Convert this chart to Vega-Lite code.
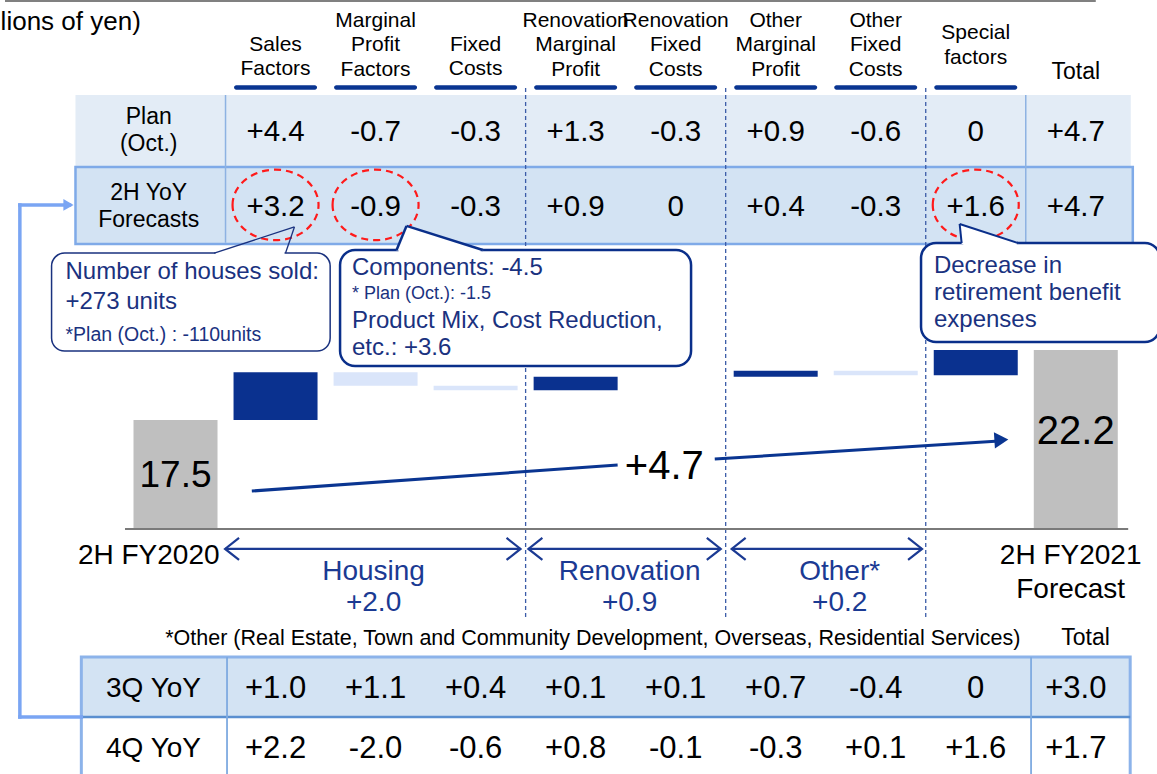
{
"$schema":"https://vega.github.io/schema/vega-lite/v6.json",
"width":1157,"height":774,"padding":0,"autosize":{"type":"none"},
"background":"#ffffff",
"config":{"view":{"stroke":null},"font":"Liberation Sans"},
"data":{"values":[{}]},
"datasets":{
"hdr":[{"col":1,"h":"Sales\nFactors","g":"n"},{"col":2,"h":"Marginal\nProfit\nFactors","g":"n"},{"col":3,"h":"Fixed\nCosts","g":"n"},{"col":4,"h":"Renovation\nMarginal\nProfit","g":"n"},{"col":5,"h":"Renovation\nFixed\nCosts","g":"n"},{"col":6,"h":"Other\nMarginal\nProfit","g":"n"},{"col":7,"h":"Other\nFixed\nCosts","g":"n"},{"col":8,"h":"Special\nfactors","g":"s"},{"col":9,"h":"Total","g":"t"}],
"tbl":[
{"row":"plan","col":1,"v":4.4,"label":"+4.4"},{"row":"plan","col":2,"v":-0.7,"label":"-0.7"},{"row":"plan","col":3,"v":-0.3,"label":"-0.3"},{"row":"plan","col":4,"v":1.3,"label":"+1.3"},{"row":"plan","col":5,"v":-0.3,"label":"-0.3"},{"row":"plan","col":6,"v":0.9,"label":"+0.9"},{"row":"plan","col":7,"v":-0.6,"label":"-0.6"},{"row":"plan","col":8,"v":0,"label":"0"},{"row":"plan","col":9,"v":4.7,"label":"+4.7"},
{"row":"h2","col":1,"v":3.2,"label":"+3.2","circled":true},{"row":"h2","col":2,"v":-0.9,"label":"-0.9","circled":true},{"row":"h2","col":3,"v":-0.3,"label":"-0.3"},{"row":"h2","col":4,"v":0.9,"label":"+0.9"},{"row":"h2","col":5,"v":0,"label":"0"},{"row":"h2","col":6,"v":0.4,"label":"+0.4"},{"row":"h2","col":7,"v":-0.3,"label":"-0.3"},{"row":"h2","col":8,"v":1.6,"label":"+1.6","circled":true},{"row":"h2","col":9,"v":4.7,"label":"+4.7"},
{"row":"q3","col":1,"v":1.0,"label":"+1.0"},{"row":"q3","col":2,"v":1.1,"label":"+1.1"},{"row":"q3","col":3,"v":0.4,"label":"+0.4"},{"row":"q3","col":4,"v":0.1,"label":"+0.1"},{"row":"q3","col":5,"v":0.1,"label":"+0.1"},{"row":"q3","col":6,"v":0.7,"label":"+0.7"},{"row":"q3","col":7,"v":-0.4,"label":"-0.4"},{"row":"q3","col":8,"v":0,"label":"0"},{"row":"q3","col":9,"v":3.0,"label":"+3.0"},
{"row":"q4","col":1,"v":2.2,"label":"+2.2"},{"row":"q4","col":2,"v":-2.0,"label":"-2.0"},{"row":"q4","col":3,"v":-0.6,"label":"-0.6"},{"row":"q4","col":4,"v":0.8,"label":"+0.8"},{"row":"q4","col":5,"v":-0.1,"label":"-0.1"},{"row":"q4","col":6,"v":-0.3,"label":"-0.3"},{"row":"q4","col":7,"v":0.1,"label":"+0.1"},{"row":"q4","col":8,"v":1.6,"label":"+1.6"},{"row":"q4","col":9,"v":1.7,"label":"+1.7"}],
"rowlab":[{"row":"plan","lab":"Plan\n(Oct.)"},{"row":"h2","lab":"2H YoY\nForecasts"},{"row":"q3","lab":"3Q YoY"},{"row":"q4","lab":"4Q YoY"}],
"totals":[{"col":0,"v":17.5,"lab":"17.5"},{"col":9,"v":22.2,"lab":"22.2"}],
"deltas":[{"col":1,"from":17.5,"to":20.7,"dir":"up"},{"col":2,"from":20.7,"to":19.8,"dir":"down"},{"col":3,"from":19.8,"to":19.5,"dir":"down"},{"col":4,"from":19.5,"to":20.4,"dir":"up"},{"col":6,"from":20.4,"to":20.8,"dir":"up"},{"col":7,"from":20.8,"to":20.5,"dir":"down"},{"col":8,"from":20.5,"to":22.2,"dir":"up"}],
"segs":[{"name":"Housing\n+2.0","lo":0.4955,"hi":3.449,"mid":1.98},{"name":"Renovation\n+0.9","lo":3.528,"hi":5.451,"mid":4.54},{"name":"Other*\n+0.2","lo":5.56,"hi":7.463,"mid":6.64}],
"notes":[{"id":"unit","t":"(Billions of yen)"},{"id":"diff","t":"+4.7"},{"id":"c1","t":"Number of houses sold:\n+273 units"},{"id":"c1s","t":"*Plan (Oct.) : -110units"},{"id":"c2a","t":"Components: -4.5"},{"id":"c2s","t":"* Plan (Oct.): -1.5"},{"id":"c2b","t":"Product Mix, Cost Reduction,\netc.: +3.6"},{"id":"c3","t":"Decrease in\nretirement benefit\nexpenses"},{"id":"fy20","t":"2H FY2020"},{"id":"fy21","t":"2H FY2021\nForecast"},{"id":"foot","t":"*Other (Real Estate, Town and Community Development, Overseas, Residential Services)"},{"id":"total2","t":"Total"}]
},
"layer":[
{"mark":{"type":"rule","color":"#808080","strokeWidth":2.5},"encoding":{"x":{"datum":-1.7046,"type":"quantitative","scale":{"domain":[-1.7046,9.762],"nice":false,"zero":false},"axis":null},"x2":{"datum":9.2},"y":{"datum":45.65,"type":"quantitative","scale":{"domain":[-6.27,45.7],"nice":false,"zero":false},"axis":null}}},
{"mark":{"type":"rect","fill":"#e3ecf6"},"encoding":{"x":{"datum":-1.0,"type":"quantitative","scale":{"domain":[-1.7046,9.762],"nice":false,"zero":false},"axis":null},"x2":{"datum":9.55},"y":{"datum":39.32,"type":"quantitative","scale":{"domain":[-6.27,45.7],"nice":false,"zero":false},"axis":null},"y2":{"datum":34.55}}},
{"mark":{"type":"rect","fill":"#d3e3f3","stroke":"#7faae8","strokeWidth":2.5},"encoding":{"x":{"datum":-1.0,"type":"quantitative","scale":{"domain":[-1.7046,9.762],"nice":false,"zero":false},"axis":null},"x2":{"datum":9.57},"y":{"datum":34.49,"type":"quantitative","scale":{"domain":[-6.27,45.7],"nice":false,"zero":false},"axis":null},"y2":{"datum":29.32}}},
{"mark":{"type":"rule","color":"#8db2e2","strokeWidth":1.5},"encoding":{"x":{"datum":0.5,"type":"quantitative","scale":{"domain":[-1.7046,9.762],"nice":false,"zero":false},"axis":null},"y":{"datum":39.32,"type":"quantitative","scale":{"domain":[-6.27,45.7],"nice":false,"zero":false},"axis":null},"y2":{"datum":29.4}}},
{"mark":{"type":"rule","color":"#8db2e2","strokeWidth":1.5},"encoding":{"x":{"datum":8.5,"type":"quantitative","scale":{"domain":[-1.7046,9.762],"nice":false,"zero":false},"axis":null},"y":{"datum":39.32,"type":"quantitative","scale":{"domain":[-6.27,45.7],"nice":false,"zero":false},"axis":null},"y2":{"datum":29.4}}},
{"mark":{"type":"rule","color":"#3b5ca8","strokeWidth":1.3,"strokeDash":[4,3]},"encoding":{"x":{"datum":3.5,"type":"quantitative","scale":{"domain":[-1.7046,9.762],"nice":false,"zero":false},"axis":null},"y":{"datum":39.79,"type":"quantitative","scale":{"domain":[-6.27,45.7],"nice":false,"zero":false},"axis":null},"y2":{"datum":4.07}}},
{"mark":{"type":"rule","color":"#3b5ca8","strokeWidth":1.3,"strokeDash":[4,3]},"encoding":{"x":{"datum":5.5,"type":"quantitative","scale":{"domain":[-1.7046,9.762],"nice":false,"zero":false},"axis":null},"y":{"datum":39.79,"type":"quantitative","scale":{"domain":[-6.27,45.7],"nice":false,"zero":false},"axis":null},"y2":{"datum":4.07}}},
{"mark":{"type":"rule","color":"#3b5ca8","strokeWidth":1.3,"strokeDash":[4,3]},"encoding":{"x":{"datum":7.5,"type":"quantitative","scale":{"domain":[-1.7046,9.762],"nice":false,"zero":false},"axis":null},"y":{"datum":39.79,"type":"quantitative","scale":{"domain":[-6.27,45.7],"nice":false,"zero":false},"axis":null},"y2":{"datum":4.07}}},
{"data":{"name":"hdr"},"transform":[{"filter":"datum.g=='n' && length(split(datum.h,'\\n'))==3"}],"mark":{"type":"text","fontSize":21,"lineHeight":24.5,"lineBreak":"\n","baseline":"middle","align":"center","color":"#000000"},"encoding":{"x":{"field":"col","type":"quantitative","scale":{"domain":[-1.7046,9.762],"nice":false,"zero":false},"axis":null},"y":{"datum":44.29,"type":"quantitative","scale":{"domain":[-6.27,45.7],"nice":false,"zero":false},"axis":null},"text":{"field":"h"}}},
{"data":{"name":"hdr"},"transform":[{"filter":"datum.g=='n' && length(split(datum.h,'\\n'))==2"}],"mark":{"type":"text","fontSize":21,"lineHeight":24.5,"lineBreak":"\n","baseline":"middle","align":"center","color":"#000000"},"encoding":{"x":{"field":"col","type":"quantitative","scale":{"domain":[-1.7046,9.762],"nice":false,"zero":false},"axis":null},"y":{"datum":42.68,"type":"quantitative","scale":{"domain":[-6.27,45.7],"nice":false,"zero":false},"axis":null},"text":{"field":"h"}}},
{"data":{"name":"hdr"},"transform":[{"filter":"datum.g=='s'"}],"mark":{"type":"text","fontSize":21,"lineHeight":24.5,"lineBreak":"\n","baseline":"middle","align":"center","color":"#000000"},"encoding":{"x":{"field":"col","type":"quantitative","scale":{"domain":[-1.7046,9.762],"nice":false,"zero":false},"axis":null},"y":{"datum":43.48,"type":"quantitative","scale":{"domain":[-6.27,45.7],"nice":false,"zero":false},"axis":null},"text":{"field":"h"}}},
{"data":{"name":"hdr"},"transform":[{"filter":"datum.g=='t'"}],"mark":{"type":"text","fontSize":23,"baseline":"middle","align":"center","color":"#000000"},"encoding":{"x":{"field":"col","type":"quantitative","scale":{"domain":[-1.7046,9.762],"nice":false,"zero":false},"axis":null},"y":{"datum":40.87,"type":"quantitative","scale":{"domain":[-6.27,45.7],"nice":false,"zero":false},"axis":null},"text":{"field":"h"}}},
{"data":{"name":"hdr"},"transform":[{"filter":"datum.g!='t'"}],"mark":{"type":"bar","width":83,"color":"#0a3591","cornerRadius":2.2},"encoding":{"x":{"field":"col","type":"quantitative","scale":{"domain":[-1.7046,9.762],"nice":false,"zero":false},"axis":null},"y":{"datum":39.97,"type":"quantitative","scale":{"domain":[-6.27,45.7],"nice":false,"zero":false},"axis":null},"y2":{"datum":39.67}}},
{"data":{"name":"tbl"},"transform":[{"filter":"datum.row=='plan'"}],"mark":{"type":"text","fontSize":29.5,"baseline":"middle","align":"center","color":"#000000"},"encoding":{"x":{"field":"col","type":"quantitative","scale":{"domain":[-1.7046,9.762],"nice":false,"zero":false},"axis":null},"y":{"datum":36.84,"type":"quantitative","scale":{"domain":[-6.27,45.7],"nice":false,"zero":false},"axis":null},"text":{"field":"label"}}},
{"data":{"name":"tbl"},"transform":[{"filter":"datum.row=='h2'"}],"mark":{"type":"text","fontSize":29.5,"baseline":"middle","align":"center","color":"#000000"},"encoding":{"x":{"field":"col","type":"quantitative","scale":{"domain":[-1.7046,9.762],"nice":false,"zero":false},"axis":null},"y":{"datum":31.8,"type":"quantitative","scale":{"domain":[-6.27,45.7],"nice":false,"zero":false},"axis":null},"text":{"field":"label"}}},
{"data":{"name":"rowlab"},"transform":[{"filter":"datum.row=='plan'"}],"mark":{"type":"text","fontSize":23,"lineHeight":27,"lineBreak":"\n","baseline":"middle","align":"center","color":"#000000"},"encoding":{"x":{"datum":-0.268,"type":"quantitative","scale":{"domain":[-1.7046,9.762],"nice":false,"zero":false},"axis":null},"y":{"datum":37.84,"type":"quantitative","scale":{"domain":[-6.27,45.7],"nice":false,"zero":false},"axis":null},"text":{"field":"lab"}}},
{"data":{"name":"rowlab"},"transform":[{"filter":"datum.row=='h2'"}],"mark":{"type":"text","fontSize":23,"lineHeight":27,"lineBreak":"\n","baseline":"middle","align":"center","color":"#000000"},"encoding":{"x":{"datum":-0.268,"type":"quantitative","scale":{"domain":[-1.7046,9.762],"nice":false,"zero":false},"axis":null},"y":{"datum":32.74,"type":"quantitative","scale":{"domain":[-6.27,45.7],"nice":false,"zero":false},"axis":null},"text":{"field":"lab"}}},
{"data":{"name":"tbl"},"transform":[{"filter":"datum.circled"}],"mark":{"type":"point","shape":"M-1,0C-1,-0.453,-0.5523,-0.82,0,-0.82C0.5523,-0.82,1,-0.453,1,0C1,0.453,0.5523,0.82,0,0.82C-0.5523,0.82,-1,0.453,-1,0Z","size":7396,"filled":false,"opacity":1,"stroke":"#ff1a1a","strokeWidth":2.2,"strokeDash":[7,5]},"encoding":{"x":{"field":"col","type":"quantitative","scale":{"domain":[-1.7046,9.762],"nice":false,"zero":false},"axis":null},"y":{"datum":31.94,"type":"quantitative","scale":{"domain":[-6.27,45.7],"nice":false,"zero":false},"axis":null}}},
{"data":{"name":"totals"},"mark":{"type":"bar","width":84,"color":"#bfbfbf"},"encoding":{"x":{"field":"col","type":"quantitative","scale":{"domain":[-1.7046,9.762],"nice":false,"zero":false},"axis":null},"y":{"field":"v","type":"quantitative","scale":{"domain":[-6.27,45.7],"nice":false,"zero":false},"axis":null},"y2":{"datum":10.18}}},
{"data":{"name":"deltas"},"mark":{"type":"bar","width":84},"encoding":{"x":{"field":"col","type":"quantitative","scale":{"domain":[-1.7046,9.762],"nice":false,"zero":false},"axis":null},"y":{"field":"from","type":"quantitative","scale":{"domain":[-6.27,45.7],"nice":false,"zero":false},"axis":null},"y2":{"field":"to"},"color":{"field":"dir","type":"nominal","scale":{"domain":["up","down"],"range":["#0a318f","#dae5fa"]},"legend":null}}},
{"mark":{"type":"rule","color":"#7a7a7a","strokeWidth":2},"encoding":{"x":{"datum":-0.505,"type":"quantitative","scale":{"domain":[-1.7046,9.762],"nice":false,"zero":false},"axis":null},"x2":{"datum":9.524},"y":{"datum":10.18,"type":"quantitative","scale":{"domain":[-6.27,45.7],"nice":false,"zero":false},"axis":null}}},
{"data":{"name":"totals"},"transform":[{"filter":"datum.col==0"}],"mark":{"type":"text","fontSize":37,"baseline":"middle","align":"center","color":"#000000"},"encoding":{"x":{"field":"col","type":"quantitative","scale":{"domain":[-1.7046,9.762],"nice":false,"zero":false},"axis":null},"y":{"datum":13.74,"type":"quantitative","scale":{"domain":[-6.27,45.7],"nice":false,"zero":false},"axis":null},"text":{"field":"lab"}}},
{"data":{"name":"totals"},"transform":[{"filter":"datum.col==9"}],"mark":{"type":"text","fontSize":40,"baseline":"middle","align":"center","color":"#000000"},"encoding":{"x":{"field":"col","type":"quantitative","scale":{"domain":[-1.7046,9.762],"nice":false,"zero":false},"axis":null},"y":{"datum":16.7,"type":"quantitative","scale":{"domain":[-6.27,45.7],"nice":false,"zero":false},"axis":null},"text":{"field":"lab"}}},
{"mark":{"type":"rule","color":"#0a3591","strokeWidth":3},"encoding":{"x":{"datum":0.763,"type":"quantitative","scale":{"domain":[-1.7046,9.762],"nice":false,"zero":false},"axis":null},"x2":{"datum":4.42},"y":{"datum":12.73,"type":"quantitative","scale":{"domain":[-6.27,45.7],"nice":false,"zero":false},"axis":null},"y2":{"datum":14.48}}},
{"mark":{"type":"rule","color":"#0a3591","strokeWidth":3},"encoding":{"x":{"datum":5.391,"type":"quantitative","scale":{"domain":[-1.7046,9.762],"nice":false,"zero":false},"axis":null},"x2":{"datum":8.236},"y":{"datum":14.88,"type":"quantitative","scale":{"domain":[-6.27,45.7],"nice":false,"zero":false},"axis":null},"y2":{"datum":16.09}}},
{"mark":{"type":"point","shape":"triangle-right","filled":true,"opacity":1,"color":"#0a3591","size":260,"angle":-3.6},"encoding":{"x":{"datum":8.256,"type":"quantitative","scale":{"domain":[-1.7046,9.762],"nice":false,"zero":false},"axis":null},"y":{"datum":16.16,"type":"quantitative","scale":{"domain":[-6.27,45.7],"nice":false,"zero":false},"axis":null}}},
{"data":{"name":"notes"},"transform":[{"filter":"datum.id=='diff'"}],"mark":{"type":"text","fontSize":40,"baseline":"middle","align":"center","color":"#000000"},"encoding":{"x":{"datum":4.886,"type":"quantitative","scale":{"domain":[-1.7046,9.762],"nice":false,"zero":false},"axis":null},"y":{"datum":14.35,"type":"quantitative","scale":{"domain":[-6.27,45.7],"nice":false,"zero":false},"axis":null},"text":{"field":"t"}}},
{"mark":{"type":"rect","fill":"#ffffff","stroke":"#1a327f","strokeWidth":1.5,"cornerRadius":13},"encoding":{"x":{"datum":-1.239,"type":"quantitative","scale":{"domain":[-1.7046,9.762],"nice":false,"zero":false},"axis":null},"x2":{"datum":1.546},"y":{"datum":28.71,"type":"quantitative","scale":{"domain":[-6.27,45.7],"nice":false,"zero":false},"axis":null},"y2":{"datum":22.13}}},
{"mark":{"type":"rect","fill":"#ffffff","stroke":"#0a2f8a","strokeWidth":2.5,"cornerRadius":15},"encoding":{"x":{"datum":1.645,"type":"quantitative","scale":{"domain":[-1.7046,9.762],"nice":false,"zero":false},"axis":null},"x2":{"datum":5.154},"y":{"datum":28.91,"type":"quantitative","scale":{"domain":[-6.27,45.7],"nice":false,"zero":false},"axis":null},"y2":{"datum":21.13}}},
{"mark":{"type":"rect","fill":"#ffffff","stroke":"#0a2f8a","strokeWidth":2.5,"cornerRadius":15},"encoding":{"x":{"datum":7.453,"type":"quantitative","scale":{"domain":[-1.7046,9.762],"nice":false,"zero":false},"axis":null},"x2":{"datum":9.841},"y":{"datum":29.38,"type":"quantitative","scale":{"domain":[-6.27,45.7],"nice":false,"zero":false},"axis":null},"y2":{"datum":22.74}}},
{"mark":{"type":"rule","color":"#ffffff","strokeWidth":4},"encoding":{"x":{"datum":0.4,"type":"quantitative","scale":{"domain":[-1.7046,9.762],"nice":false,"zero":false},"axis":null},"x2":{"datum":1.09},"y":{"datum":28.71,"type":"quantitative","scale":{"domain":[-6.27,45.7],"nice":false,"zero":false},"axis":null}}},
{"mark":{"type":"rule","color":"#ffffff","strokeWidth":4},"encoding":{"x":{"datum":2.23,"type":"quantitative","scale":{"domain":[-1.7046,9.762],"nice":false,"zero":false},"axis":null},"x2":{"datum":3.05},"y":{"datum":28.91,"type":"quantitative","scale":{"domain":[-6.27,45.7],"nice":false,"zero":false},"axis":null}}},
{"mark":{"type":"rule","color":"#ffffff","strokeWidth":4},"encoding":{"x":{"datum":7.875,"type":"quantitative","scale":{"domain":[-1.7046,9.762],"nice":false,"zero":false},"axis":null},"x2":{"datum":8.41},"y":{"datum":29.38,"type":"quantitative","scale":{"domain":[-6.27,45.7],"nice":false,"zero":false},"axis":null}}},
{"mark":{"type":"point","shape":"M0,0L-1,2.45L7.7,2.45Z","size":400,"filled":true,"opacity":1,"color":"#ffffff","strokeWidth":0},"encoding":{"x":{"datum":2.309,"type":"quantitative","scale":{"domain":[-1.7046,9.762],"nice":false,"zero":false},"axis":null},"y":{"datum":30.53,"type":"quantitative","scale":{"domain":[-6.27,45.7],"nice":false,"zero":false},"axis":null}}},
{"mark":{"type":"point","shape":"M0,0L0.2,2L5.9,2Z","size":400,"filled":true,"opacity":1,"color":"#ffffff","strokeWidth":0},"encoding":{"x":{"datum":7.839,"type":"quantitative","scale":{"domain":[-1.7046,9.762],"nice":false,"zero":false},"axis":null},"y":{"datum":30.66,"type":"quantitative","scale":{"domain":[-6.27,45.7],"nice":false,"zero":false},"axis":null}}},
{"mark":{"type":"rule","color":"#1a327f","strokeWidth":1.3},"encoding":{"x":{"datum":0.387,"type":"quantitative","scale":{"domain":[-1.7046,9.762],"nice":false,"zero":false},"axis":null},"x2":{"datum":1.189},"y":{"datum":28.71,"type":"quantitative","scale":{"domain":[-6.27,45.7],"nice":false,"zero":false},"axis":null},"y2":{"datum":30.46}}},
{"mark":{"type":"rule","color":"#1a327f","strokeWidth":1.3},"encoding":{"x":{"datum":1.1,"type":"quantitative","scale":{"domain":[-1.7046,9.762],"nice":false,"zero":false},"axis":null},"x2":{"datum":1.189},"y":{"datum":28.71,"type":"quantitative","scale":{"domain":[-6.27,45.7],"nice":false,"zero":false},"axis":null},"y2":{"datum":30.46}}},
{"mark":{"type":"rule","color":"#0a2f8a","strokeWidth":2.5},"encoding":{"x":{"datum":2.21,"type":"quantitative","scale":{"domain":[-1.7046,9.762],"nice":false,"zero":false},"axis":null},"x2":{"datum":2.309},"y":{"datum":28.91,"type":"quantitative","scale":{"domain":[-6.27,45.7],"nice":false,"zero":false},"axis":null},"y2":{"datum":30.53}}},
{"mark":{"type":"rule","color":"#0a2f8a","strokeWidth":2.5},"encoding":{"x":{"datum":2.309,"type":"quantitative","scale":{"domain":[-1.7046,9.762],"nice":false,"zero":false},"axis":null},"x2":{"datum":3.072},"y":{"datum":30.53,"type":"quantitative","scale":{"domain":[-6.27,45.7],"nice":false,"zero":false},"axis":null},"y2":{"datum":28.91}}},
{"mark":{"type":"rule","color":"#0a2f8a","strokeWidth":2},"encoding":{"x":{"datum":7.859,"type":"quantitative","scale":{"domain":[-1.7046,9.762],"nice":false,"zero":false},"axis":null},"x2":{"datum":7.839},"y":{"datum":29.38,"type":"quantitative","scale":{"domain":[-6.27,45.7],"nice":false,"zero":false},"axis":null},"y2":{"datum":30.66}}},
{"mark":{"type":"rule","color":"#0a2f8a","strokeWidth":2},"encoding":{"x":{"datum":7.839,"type":"quantitative","scale":{"domain":[-1.7046,9.762],"nice":false,"zero":false},"axis":null},"x2":{"datum":8.424},"y":{"datum":30.66,"type":"quantitative","scale":{"domain":[-6.27,45.7],"nice":false,"zero":false},"axis":null},"y2":{"datum":29.38}}},
{"data":{"name":"notes"},"transform":[{"filter":"datum.id=='c1'"}],"mark":{"type":"text","fontSize":24,"lineHeight":30,"lineBreak":"\n","baseline":"middle","align":"left","color":"#1a327f"},"encoding":{"x":{"datum":-1.1,"type":"quantitative","scale":{"domain":[-1.7046,9.762],"nice":false,"zero":false},"axis":null},"y":{"datum":27.44,"type":"quantitative","scale":{"domain":[-6.27,45.7],"nice":false,"zero":false},"axis":null},"text":{"field":"t"}}},
{"data":{"name":"notes"},"transform":[{"filter":"datum.id=='c1s'"}],"mark":{"type":"text","fontSize":19.5,"baseline":"middle","align":"left","color":"#1a327f"},"encoding":{"x":{"datum":-1.1,"type":"quantitative","scale":{"domain":[-1.7046,9.762],"nice":false,"zero":false},"axis":null},"y":{"datum":23.21,"type":"quantitative","scale":{"domain":[-6.27,45.7],"nice":false,"zero":false},"axis":null},"text":{"field":"t"}}},
{"data":{"name":"notes"},"transform":[{"filter":"datum.id=='c2a'"}],"mark":{"type":"text","fontSize":24,"baseline":"middle","align":"left","color":"#1a327f"},"encoding":{"x":{"datum":1.764,"type":"quantitative","scale":{"domain":[-1.7046,9.762],"nice":false,"zero":false},"axis":null},"y":{"datum":27.71,"type":"quantitative","scale":{"domain":[-6.27,45.7],"nice":false,"zero":false},"axis":null},"text":{"field":"t"}}},
{"data":{"name":"notes"},"transform":[{"filter":"datum.id=='c2s'"}],"mark":{"type":"text","fontSize":18,"baseline":"middle","align":"left","color":"#1a327f"},"encoding":{"x":{"datum":1.764,"type":"quantitative","scale":{"domain":[-1.7046,9.762],"nice":false,"zero":false},"axis":null},"y":{"datum":25.96,"type":"quantitative","scale":{"domain":[-6.27,45.7],"nice":false,"zero":false},"axis":null},"text":{"field":"t"}}},
{"data":{"name":"notes"},"transform":[{"filter":"datum.id=='c2b'"}],"mark":{"type":"text","fontSize":24,"lineHeight":27,"lineBreak":"\n","baseline":"middle","align":"left","color":"#1a327f"},"encoding":{"x":{"datum":1.764,"type":"quantitative","scale":{"domain":[-1.7046,9.762],"nice":false,"zero":false},"axis":null},"y":{"datum":24.15,"type":"quantitative","scale":{"domain":[-6.27,45.7],"nice":false,"zero":false},"axis":null},"text":{"field":"t"}}},
{"data":{"name":"notes"},"transform":[{"filter":"datum.id=='c3'"}],"mark":{"type":"text","fontSize":24,"lineHeight":27,"lineBreak":"\n","baseline":"middle","align":"left","color":"#1a327f"},"encoding":{"x":{"datum":7.582,"type":"quantitative","scale":{"domain":[-1.7046,9.762],"nice":false,"zero":false},"axis":null},"y":{"datum":27.84,"type":"quantitative","scale":{"domain":[-6.27,45.7],"nice":false,"zero":false},"axis":null},"text":{"field":"t"}}},
{"data":{"name":"segs"},"mark":{"type":"rule","color":"#1b3a93","strokeWidth":2.2},"encoding":{"x":{"field":"lo","type":"quantitative","scale":{"domain":[-1.7046,9.762],"nice":false,"zero":false},"axis":null},"x2":{"field":"hi"},"y":{"datum":8.84,"type":"quantitative","scale":{"domain":[-6.27,45.7],"nice":false,"zero":false},"axis":null}}},
{"data":{"name":"segs"},"mark":{"type":"point","shape":"M1.27,-1L0,0L1.27,1","size":484,"filled":false,"opacity":1,"color":"#1b3a93","strokeWidth":2.2},"encoding":{"x":{"field":"lo","type":"quantitative","scale":{"domain":[-1.7046,9.762],"nice":false,"zero":false},"axis":null},"y":{"datum":8.84,"type":"quantitative","scale":{"domain":[-6.27,45.7],"nice":false,"zero":false},"axis":null}}},
{"data":{"name":"segs"},"mark":{"type":"point","shape":"M-1.27,-1L0,0L-1.27,1","size":484,"filled":false,"opacity":1,"color":"#1b3a93","strokeWidth":2.2},"encoding":{"x":{"field":"hi","type":"quantitative","scale":{"domain":[-1.7046,9.762],"nice":false,"zero":false},"axis":null},"y":{"datum":8.84,"type":"quantitative","scale":{"domain":[-6.27,45.7],"nice":false,"zero":false},"axis":null}}},
{"data":{"name":"segs"},"mark":{"type":"text","fontSize":28,"lineHeight":31,"lineBreak":"\n","baseline":"middle","align":"center","color":"#1b3a93"},"encoding":{"x":{"field":"mid","type":"quantitative","scale":{"domain":[-1.7046,9.762],"nice":false,"zero":false},"axis":null},"y":{"datum":7.3,"type":"quantitative","scale":{"domain":[-6.27,45.7],"nice":false,"zero":false},"axis":null},"text":{"field":"name"}}},
{"data":{"name":"notes"},"transform":[{"filter":"datum.id=='fy20'"}],"mark":{"type":"text","fontSize":28,"baseline":"middle","align":"center","color":"#000000"},"encoding":{"x":{"datum":-0.268,"type":"quantitative","scale":{"domain":[-1.7046,9.762],"nice":false,"zero":false},"axis":null},"y":{"datum":8.37,"type":"quantitative","scale":{"domain":[-6.27,45.7],"nice":false,"zero":false},"axis":null},"text":{"field":"t"}}},
{"data":{"name":"notes"},"transform":[{"filter":"datum.id=='fy21'"}],"mark":{"type":"text","fontSize":28,"lineHeight":34,"lineBreak":"\n","baseline":"middle","align":"center","color":"#000000"},"encoding":{"x":{"datum":8.949,"type":"quantitative","scale":{"domain":[-1.7046,9.762],"nice":false,"zero":false},"axis":null},"y":{"datum":8.37,"type":"quantitative","scale":{"domain":[-6.27,45.7],"nice":false,"zero":false},"axis":null},"text":{"field":"t"}}},
{"data":{"name":"notes"},"transform":[{"filter":"datum.id=='foot'"}],"mark":{"type":"text","fontSize":21.5,"baseline":"middle","align":"center","color":"#000000"},"encoding":{"x":{"datum":4.172,"type":"quantitative","scale":{"domain":[-1.7046,9.762],"nice":false,"zero":false},"axis":null},"y":{"datum":2.8,"type":"quantitative","scale":{"domain":[-6.27,45.7],"nice":false,"zero":false},"axis":null},"text":{"field":"t"}}},
{"data":{"name":"notes"},"transform":[{"filter":"datum.id=='total2'"}],"mark":{"type":"text","fontSize":23,"baseline":"middle","align":"center","color":"#000000"},"encoding":{"x":{"datum":9.098,"type":"quantitative","scale":{"domain":[-1.7046,9.762],"nice":false,"zero":false},"axis":null},"y":{"datum":2.86,"type":"quantitative","scale":{"domain":[-6.27,45.7],"nice":false,"zero":false},"axis":null},"text":{"field":"t"}}},
{"mark":{"type":"rect","fill":"#d3e3f3"},"encoding":{"x":{"datum":-0.9415,"type":"quantitative","scale":{"domain":[-1.7046,9.762],"nice":false,"zero":false},"axis":null},"x2":{"datum":9.544},"y":{"datum":1.59,"type":"quantitative","scale":{"domain":[-6.27,45.7],"nice":false,"zero":false},"axis":null},"y2":{"datum":-2.44}}},
{"mark":{"type":"rect","fillOpacity":0,"stroke":"#8cb3ea","strokeWidth":3},"encoding":{"x":{"datum":-0.9415,"type":"quantitative","scale":{"domain":[-1.7046,9.762],"nice":false,"zero":false},"axis":null},"x2":{"datum":9.544},"y":{"datum":1.59,"type":"quantitative","scale":{"domain":[-6.27,45.7],"nice":false,"zero":false},"axis":null},"y2":{"datum":-6.67}}},
{"mark":{"type":"rule","color":"#5a8fd0","strokeWidth":2.5},"encoding":{"x":{"datum":-0.9415,"type":"quantitative","scale":{"domain":[-1.7046,9.762],"nice":false,"zero":false},"axis":null},"x2":{"datum":9.544},"y":{"datum":-2.44,"type":"quantitative","scale":{"domain":[-6.27,45.7],"nice":false,"zero":false},"axis":null}}},
{"mark":{"type":"rule","color":"#7eaae0","strokeWidth":1.8},"encoding":{"x":{"datum":0.515,"type":"quantitative","scale":{"domain":[-1.7046,9.762],"nice":false,"zero":false},"axis":null},"y":{"datum":1.59,"type":"quantitative","scale":{"domain":[-6.27,45.7],"nice":false,"zero":false},"axis":null},"y2":{"datum":-6.67}}},
{"mark":{"type":"rule","color":"#7eaae0","strokeWidth":1.8},"encoding":{"x":{"datum":8.553,"type":"quantitative","scale":{"domain":[-1.7046,9.762],"nice":false,"zero":false},"axis":null},"y":{"datum":1.59,"type":"quantitative","scale":{"domain":[-6.27,45.7],"nice":false,"zero":false},"axis":null},"y2":{"datum":-6.67}}},
{"data":{"name":"rowlab"},"transform":[{"filter":"datum.row=='q3'"}],"mark":{"type":"text","fontSize":28,"baseline":"middle","align":"center","color":"#000000"},"encoding":{"x":{"datum":-0.22,"type":"quantitative","scale":{"domain":[-1.7046,9.762],"nice":false,"zero":false},"axis":null},"y":{"datum":-0.56,"type":"quantitative","scale":{"domain":[-6.27,45.7],"nice":false,"zero":false},"axis":null},"text":{"field":"lab"}}},
{"data":{"name":"rowlab"},"transform":[{"filter":"datum.row=='q4'"}],"mark":{"type":"text","fontSize":28,"baseline":"middle","align":"center","color":"#000000"},"encoding":{"x":{"datum":-0.22,"type":"quantitative","scale":{"domain":[-1.7046,9.762],"nice":false,"zero":false},"axis":null},"y":{"datum":-4.59,"type":"quantitative","scale":{"domain":[-6.27,45.7],"nice":false,"zero":false},"axis":null},"text":{"field":"lab"}}},
{"data":{"name":"tbl"},"transform":[{"filter":"datum.row=='q3'"}],"mark":{"type":"text","fontSize":31,"baseline":"middle","align":"center","color":"#000000"},"encoding":{"x":{"field":"col","type":"quantitative","scale":{"domain":[-1.7046,9.762],"nice":false,"zero":false},"axis":null},"y":{"datum":-0.56,"type":"quantitative","scale":{"domain":[-6.27,45.7],"nice":false,"zero":false},"axis":null},"text":{"field":"label"}}},
{"data":{"name":"tbl"},"transform":[{"filter":"datum.row=='q4'"}],"mark":{"type":"text","fontSize":31,"baseline":"middle","align":"center","color":"#000000"},"encoding":{"x":{"field":"col","type":"quantitative","scale":{"domain":[-1.7046,9.762],"nice":false,"zero":false},"axis":null},"y":{"datum":-4.59,"type":"quantitative","scale":{"domain":[-6.27,45.7],"nice":false,"zero":false},"axis":null},"text":{"field":"label"}}},
{"mark":{"type":"rule","color":"#7aa5f3","strokeWidth":3.5,"strokeCap":"square"},"encoding":{"x":{"datum":-1.556,"type":"quantitative","scale":{"domain":[-1.7046,9.762],"nice":false,"zero":false},"axis":null},"x2":{"datum":-1.06},"y":{"datum":31.94,"type":"quantitative","scale":{"domain":[-6.27,45.7],"nice":false,"zero":false},"axis":null}}},
{"mark":{"type":"rule","color":"#7aa5f3","strokeWidth":3.5,"strokeCap":"square"},"encoding":{"x":{"datum":-1.556,"type":"quantitative","scale":{"domain":[-1.7046,9.762],"nice":false,"zero":false},"axis":null},"y":{"datum":31.94,"type":"quantitative","scale":{"domain":[-6.27,45.7],"nice":false,"zero":false},"axis":null},"y2":{"datum":-2.44}}},
{"mark":{"type":"rule","color":"#7aa5f3","strokeWidth":3.5,"strokeCap":"square"},"encoding":{"x":{"datum":-1.556,"type":"quantitative","scale":{"domain":[-1.7046,9.762],"nice":false,"zero":false},"axis":null},"x2":{"datum":-0.9415},"y":{"datum":-2.44,"type":"quantitative","scale":{"domain":[-6.27,45.7],"nice":false,"zero":false},"axis":null}}},
{"mark":{"type":"point","shape":"triangle-right","filled":true,"opacity":1,"color":"#7aa5f3","size":140},"encoding":{"x":{"datum":-1.07,"type":"quantitative","scale":{"domain":[-1.7046,9.762],"nice":false,"zero":false},"axis":null},"y":{"datum":31.94,"type":"quantitative","scale":{"domain":[-6.27,45.7],"nice":false,"zero":false},"axis":null}}},
{"data":{"name":"notes"},"transform":[{"filter":"datum.id=='unit'"}],"mark":{"type":"text","fontSize":26,"baseline":"middle","align":"right","color":"#000000"},"encoding":{"x":{"datum":-0.347,"type":"quantitative","scale":{"domain":[-1.7046,9.762],"nice":false,"zero":false},"axis":null},"y":{"datum":44.22,"type":"quantitative","scale":{"domain":[-6.27,45.7],"nice":false,"zero":false},"axis":null},"text":{"field":"t"}}}
]
}
